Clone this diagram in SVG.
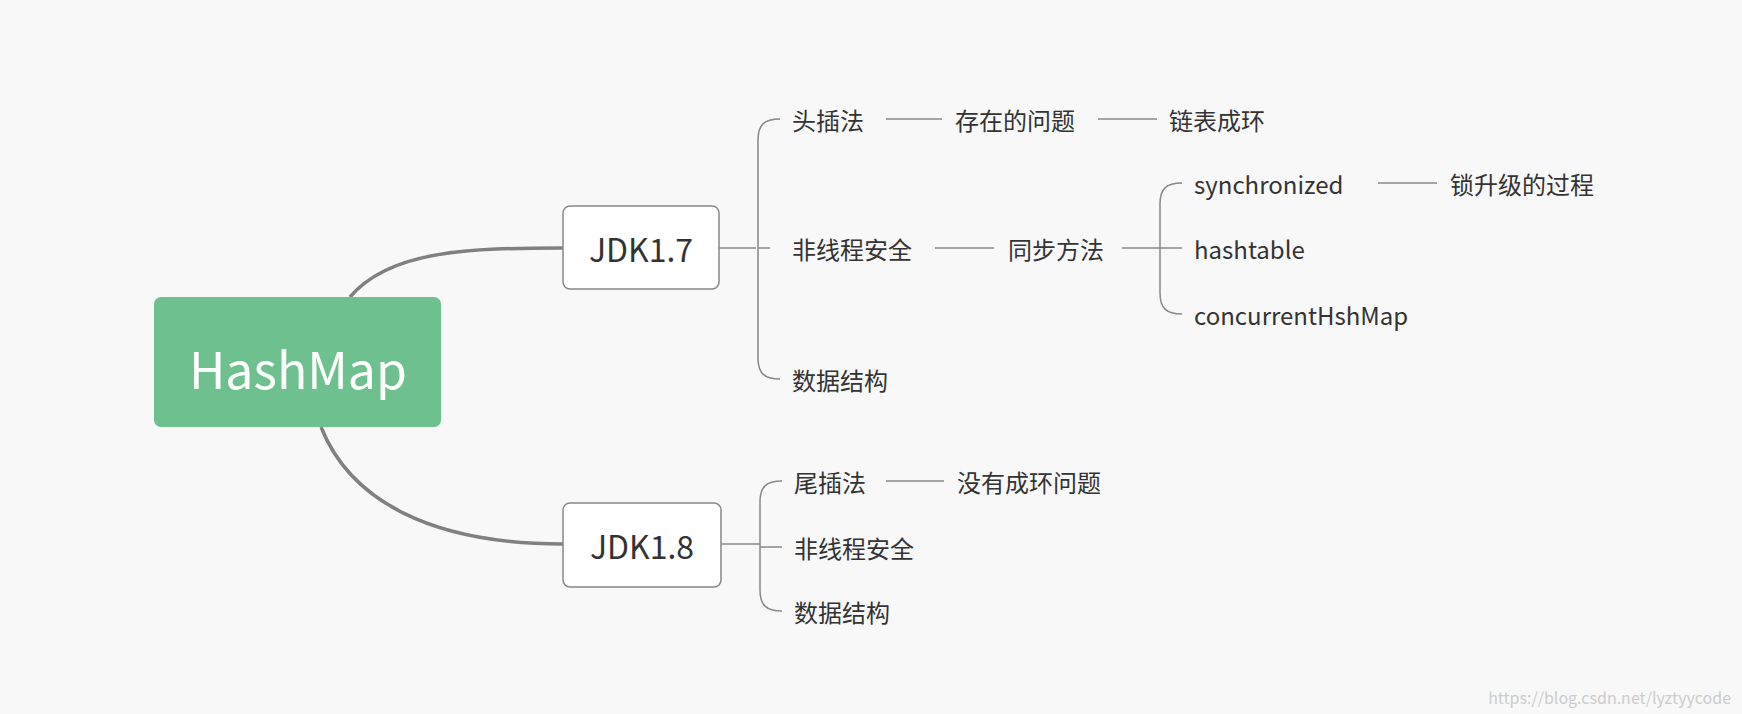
<svg xmlns="http://www.w3.org/2000/svg" width="1742" height="714" viewBox="0 0 1742 714">
<style>
text{font-family:"PingFang SC","Noto Sans CJK SC","Liberation Sans",sans-serif;fill:#333;font-size:24px;dominant-baseline:central}
.n{fill:#fff;stroke:#888;stroke-width:1.5}
.c{fill:none;stroke:#888;stroke-width:1.5}
.m{fill:none;stroke:#808080;stroke-width:3.5}
</style>
<rect width="1742" height="714" fill="#f8f8f8"/>
<g id="connectors">
<path class="m" d="M350,297 C390,250 470,248 563,248"/>
<path class="m" d="M321,427 C350,500 430,544 563,544"/>
<path class="c" d="M719,248 H756 M780,119 C764,119 758,125 758,140 V358 C758,373 764,379 780,379 M758,248 H770"/>
<path class="c" d="M886,119 H942 M1098,119 H1157 M935,248 H994 M1122,248 H1156"/>
<path class="c" d="M1182,183 C1166,183 1160,189 1160,204 V293 C1160,308 1166,314 1182,314 M1156,248 H1182"/>
<path class="c" d="M1378,183 H1437"/>
<path class="c" d="M721,544 H760 M782,481 C766,481 760,487 760,502 V590 C760,605 766,611 782,611 M760,547 H782"/>
<path class="c" d="M886,481 H944"/>
</g>
<g id="hashmap"><rect x="154" y="297" width="287" height="130" rx="7" fill="#6fc08f"/><text x="298" y="367" text-anchor="middle" style="fill:#fff;font-size:50px">HashMap</text></g>
<g id="jdk17"><rect class="n" x="563" y="206" width="156" height="83" rx="7"/><text x="641" y="248" text-anchor="middle" style="font-size:32px">JDK1.7</text></g>
<g id="jdk18"><rect class="n" x="563" y="503" width="158" height="84" rx="7"/><text x="642" y="545" text-anchor="middle" style="font-size:32px">JDK1.8</text></g>
<g id="t1"><text x="792" y="119">头插法</text></g>
<g id="t2"><text x="955" y="119">存在的问题</text></g>
<g id="t3"><text x="1169" y="119">链表成环</text></g>
<g id="t4"><text x="792" y="248">非线程安全</text></g>
<g id="t5"><text x="1008" y="248">同步方法</text></g>
<g id="t6"><text x="1194" y="183">synchronized</text></g>
<g id="t7"><text x="1450" y="183">锁升级的过程</text></g>
<g id="t8"><text x="1194" y="248">hashtable</text></g>
<g id="t9"><text x="1194" y="314">concurrentHshMap</text></g>
<g id="t10"><text x="792" y="379">数据结构</text></g>
<g id="t11"><text x="794" y="481">尾插法</text></g>
<g id="t12"><text x="957" y="481">没有成环问题</text></g>
<g id="t13"><text x="794" y="547">非线程安全</text></g>
<g id="t14"><text x="794" y="611">数据结构</text></g>
<text x="1731" y="697" text-anchor="end" style="font-size:16px;fill:#ccc">https://blog.csdn.net/lyztyycode</text>
</svg>
